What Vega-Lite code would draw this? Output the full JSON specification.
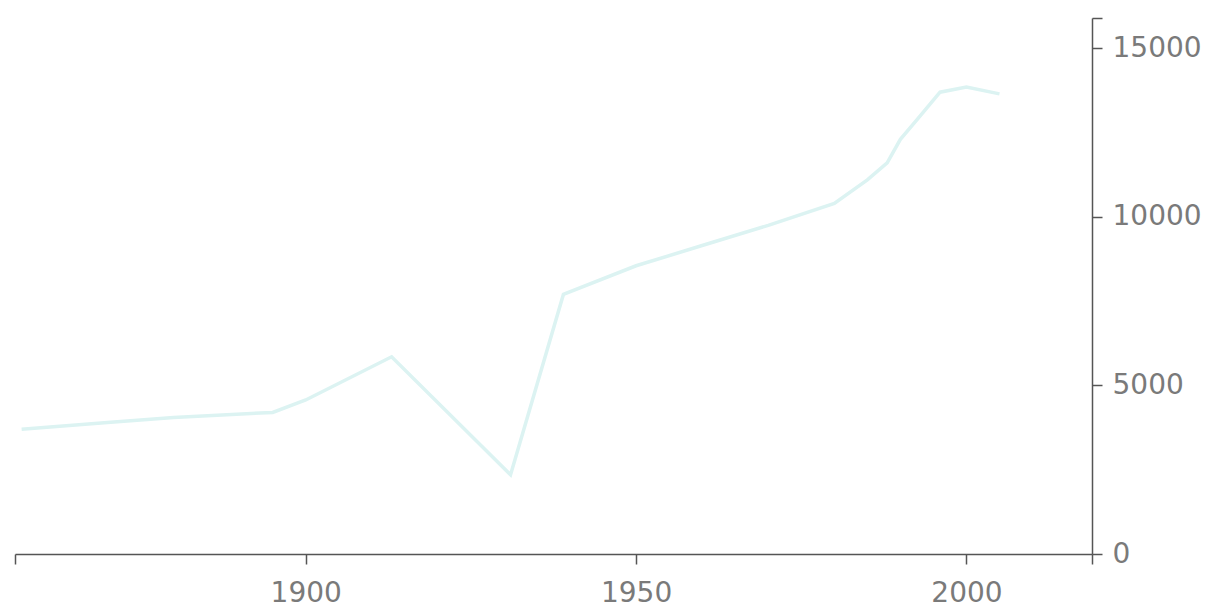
{
  "$schema": "https://vega.github.io/schema/vega-lite/v6.json",
  "width": 1077,
  "height": 536,
  "autosize": "none",
  "padding": {"left": 15, "top": 18, "right": 122, "bottom": 53},
  "background": "white",
  "config": {
    "view": {"stroke": null},
    "axis": {
      "grid": false,
      "domainColor": "#555555",
      "domainWidth": 1.5,
      "tickColor": "#555555",
      "tickWidth": 1.5,
      "tickSize": 10,
      "labelFont": "DejaVu Sans",
      "labelFontSize": 28,
      "labelColor": "#7a7a7a",
      "labelPadding": 10,
      "title": null
    }
  },
  "data": {
    "values": [
      {"year": 1857, "value": 3700},
      {"year": 1870, "value": 3900},
      {"year": 1880, "value": 4050},
      {"year": 1895, "value": 4200},
      {"year": 1900, "value": 4570},
      {"year": 1913, "value": 5850},
      {"year": 1931, "value": 2350},
      {"year": 1939, "value": 7700},
      {"year": 1950, "value": 8550},
      {"year": 1960, "value": 9150},
      {"year": 1970, "value": 9750},
      {"year": 1980, "value": 10400},
      {"year": 1985, "value": 11100},
      {"year": 1988, "value": 11600},
      {"year": 1990, "value": 12300},
      {"year": 1993, "value": 13000},
      {"year": 1996, "value": 13700},
      {"year": 2000, "value": 13850},
      {"year": 2005, "value": 13650}
    ]
  },
  "mark": {"type": "line", "color": "#dcf3f2", "strokeWidth": 3.5},
  "encoding": {
    "x": {
      "field": "year",
      "type": "quantitative",
      "scale": {"domain": [1856, 2019], "nice": false, "zero": false},
      "axis": {
        "values": [1856, 1900, 1950, 2000, 2019],
        "labelExpr": "datum.value == 1856 || datum.value == 2019 ? '' : datum.value",
        "labelFlush": false,
        "labelPadding": 15
      }
    },
    "y": {
      "field": "value",
      "type": "quantitative",
      "scale": {"domain": [0, 15900], "nice": false},
      "axis": {
        "orient": "right",
        "values": [0, 5000, 10000, 15000, 15900],
        "labelExpr": "datum.value == 15900 ? '' : datum.value",
        "labelBaseline": "middle",
        "labelFlush": false
      }
    }
  }
}
